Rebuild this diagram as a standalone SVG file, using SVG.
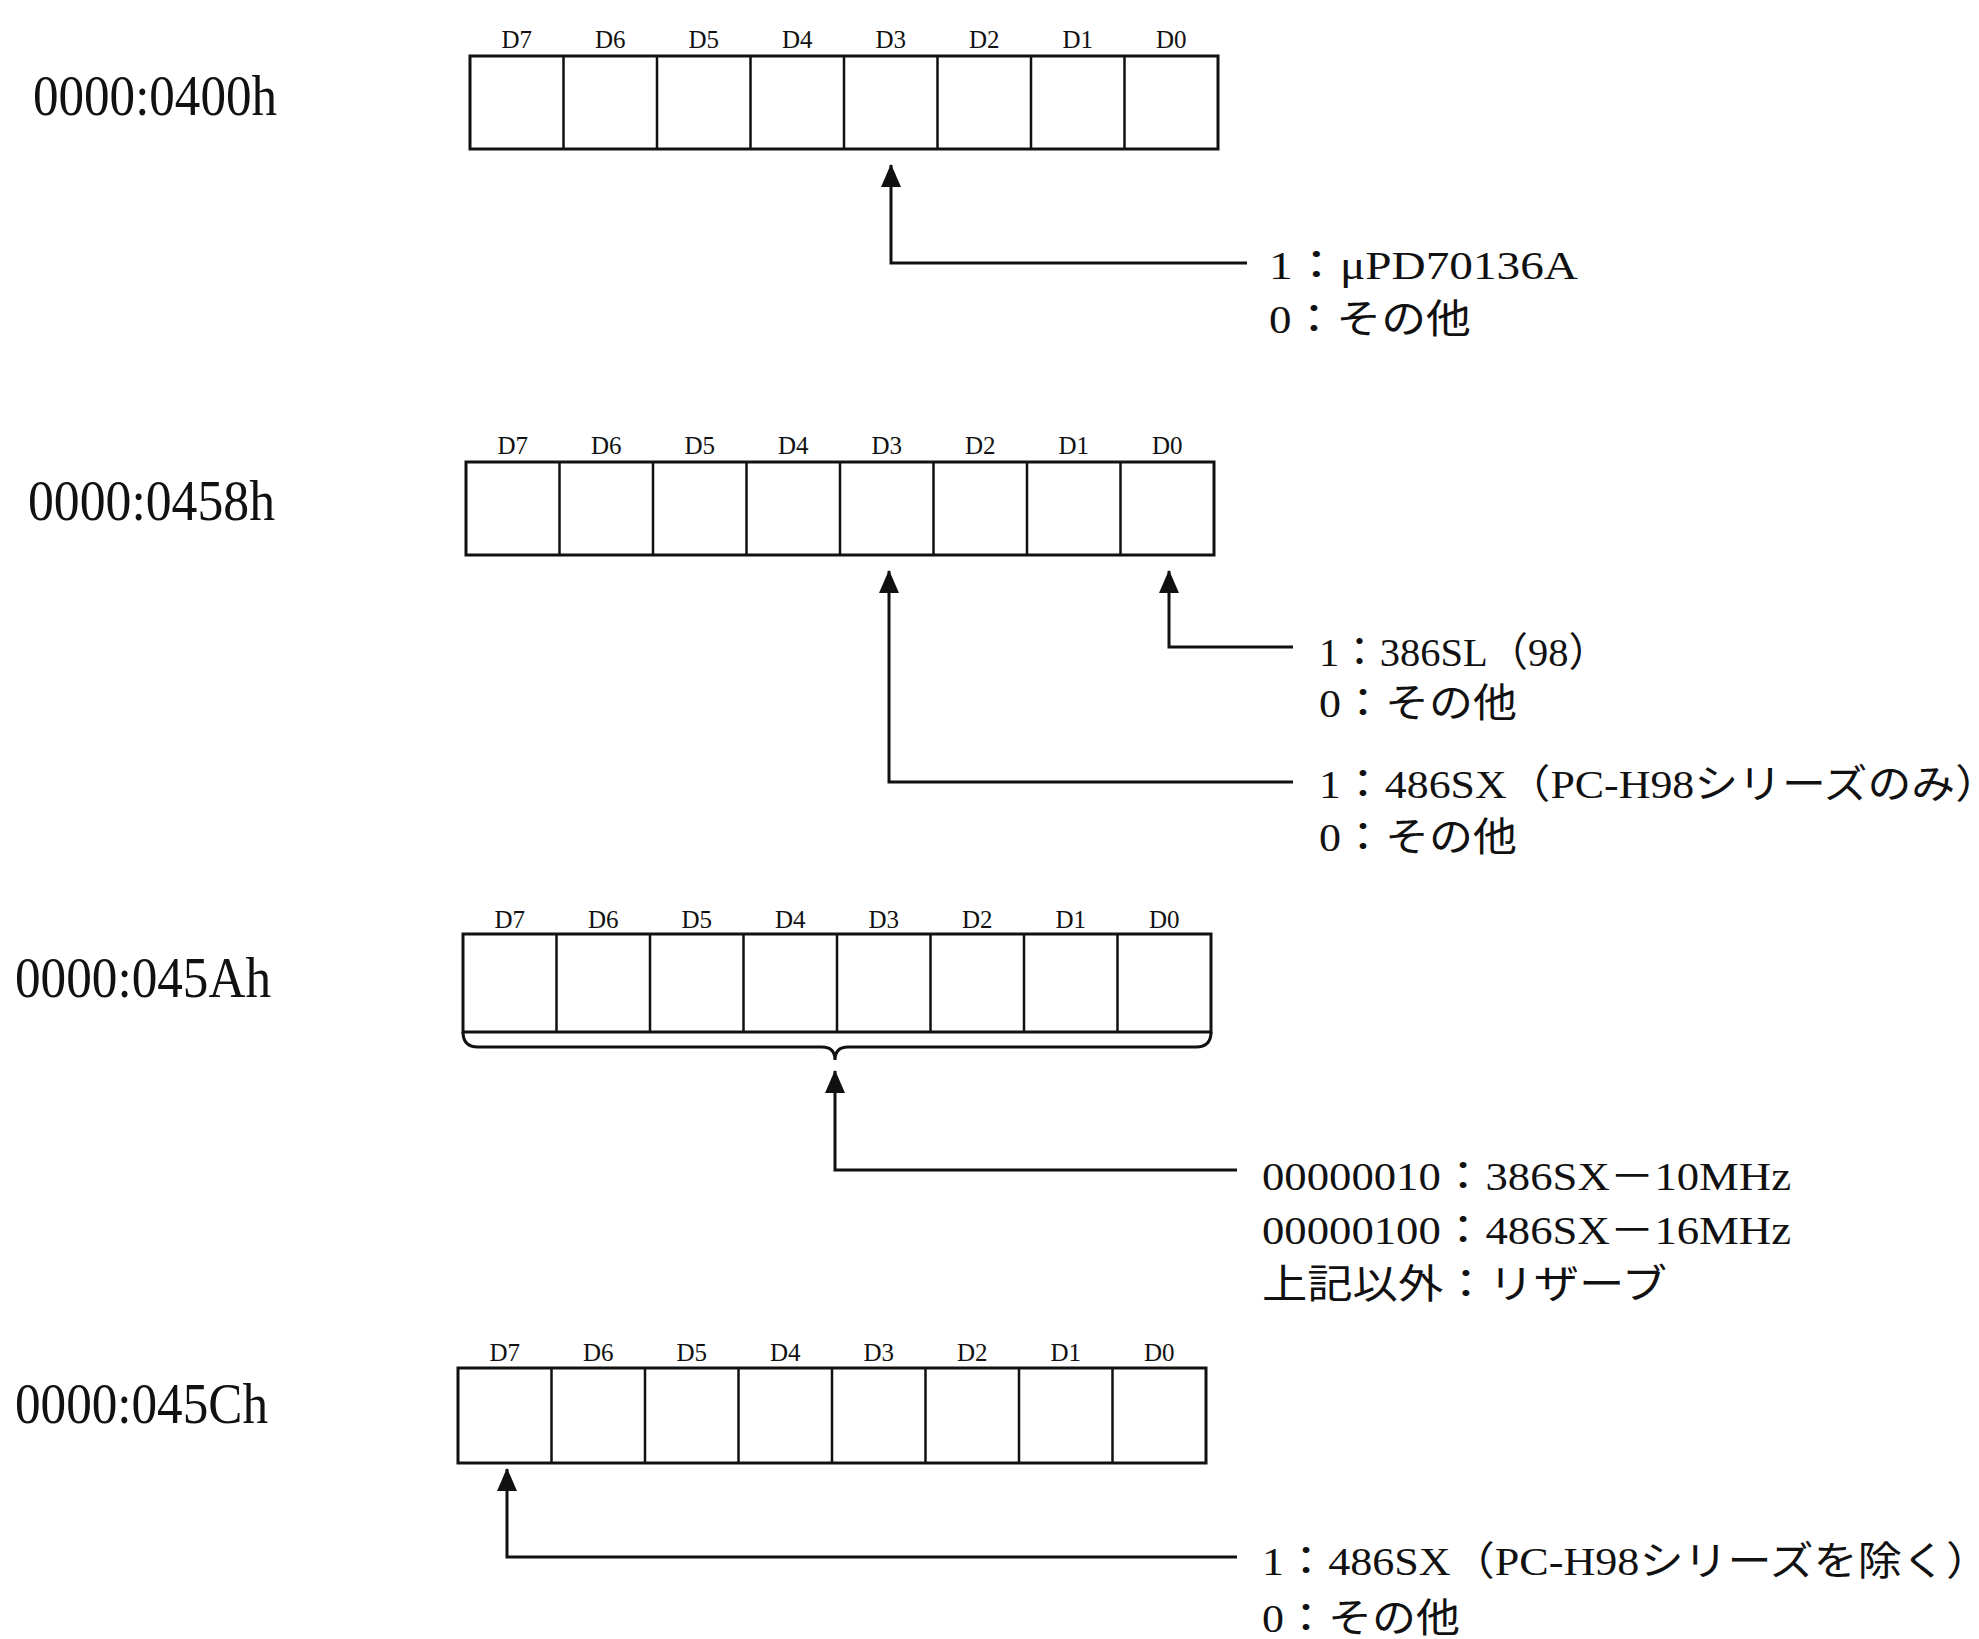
<svg xmlns="http://www.w3.org/2000/svg" width="1979" height="1639" viewBox="0 0 1979 1639">
<style>
.bg{fill:#ffffff}
.box{fill:none;stroke:#111;stroke-width:3}
.div{stroke:#111;stroke-width:2.5}
.bit{font-family:"Liberation Serif","Noto Sans CJK JP",serif;font-size:25px;fill:#111;text-anchor:middle}
.addr{font-family:"Liberation Serif","Noto Sans CJK JP",serif;font-size:56px;fill:#111}
.desc{font-family:"Liberation Serif","Noto Sans CJK JP",serif;font-size:40px;fill:#111}
.conn{fill:none;stroke:#111;stroke-width:3}
</style>
<defs>
<marker id="ah" markerWidth="24" markerHeight="20" refX="22" refY="10" orient="auto" markerUnits="userSpaceOnUse">
<path d="M0,0 L23,10 L0,20 Z" fill="#111"/>
</marker>
</defs>
<rect class="bg" x="0" y="0" width="1979" height="1639"/>

<g id="reg0400">
<text class="addr" x="33" y="115" textLength="244" lengthAdjust="spacingAndGlyphs">0000:0400h</text>
<rect class="box" x="470" y="56" width="748" height="93"/>
<path class="div" d="M563.5,56V149M657,56V149M750.5,56V149M844,56V149M937.5,56V149M1031,56V149M1124.5,56V149"/>
<text class="bit" x="516.75" y="48">D7</text>
<text class="bit" x="610.25" y="48">D6</text>
<text class="bit" x="703.75" y="48">D5</text>
<text class="bit" x="797.25" y="48">D4</text>
<text class="bit" x="890.75" y="48">D3</text>
<text class="bit" x="984.25" y="48">D2</text>
<text class="bit" x="1077.75" y="48">D1</text>
<text class="bit" x="1171.25" y="48">D0</text>
<text class="desc" x="1269" y="279" textLength="309" lengthAdjust="spacingAndGlyphs">1：μPD70136A</text>
<text class="desc" x="1269" y="333" textLength="202" lengthAdjust="spacingAndGlyphs">0：その他</text>
</g>

<g id="reg0458">
<text class="addr" x="28" y="520" textLength="247" lengthAdjust="spacingAndGlyphs">0000:0458h</text>
<rect class="box" x="466" y="462" width="748" height="93"/>
<path class="div" d="M559.5,462V555M653,462V555M746.5,462V555M840,462V555M933.5,462V555M1027,462V555M1120.5,462V555"/>
<text class="bit" x="512.75" y="454">D7</text>
<text class="bit" x="606.25" y="454">D6</text>
<text class="bit" x="699.75" y="454">D5</text>
<text class="bit" x="793.25" y="454">D4</text>
<text class="bit" x="886.75" y="454">D3</text>
<text class="bit" x="980.25" y="454">D2</text>
<text class="bit" x="1073.75" y="454">D1</text>
<text class="bit" x="1167.25" y="454">D0</text>
<text class="desc" x="1319" y="666" textLength="290" lengthAdjust="spacingAndGlyphs">1：386SL（98）</text>
<text class="desc" x="1319" y="717" textLength="198" lengthAdjust="spacingAndGlyphs">0：その他</text>
<text class="desc" x="1319" y="798" textLength="680" lengthAdjust="spacingAndGlyphs">1：486SX（PC-H98シリーズのみ）</text>
<text class="desc" x="1319" y="851" textLength="198" lengthAdjust="spacingAndGlyphs">0：その他</text>
</g>

<g id="reg045A">
<text class="addr" x="15" y="997" textLength="256" lengthAdjust="spacingAndGlyphs">0000:045Ah</text>
<rect class="box" x="463" y="934" width="748" height="98"/>
<path class="div" d="M556.5,934V1032M650,934V1032M743.5,934V1032M837,934V1032M930.5,934V1032M1024,934V1032M1117.5,934V1032"/>
<text class="bit" x="509.75" y="928">D7</text>
<text class="bit" x="603.25" y="928">D6</text>
<text class="bit" x="696.75" y="928">D5</text>
<text class="bit" x="790.25" y="928">D4</text>
<text class="bit" x="883.75" y="928">D3</text>
<text class="bit" x="977.25" y="928">D2</text>
<text class="bit" x="1070.75" y="928">D1</text>
<text class="bit" x="1164.25" y="928">D0</text>
<path class="conn" d="M463,1032 Q463,1047 478,1047 L822,1047 Q835,1047 835,1060 Q835,1047 848,1047 L1196,1047 Q1211,1047 1211,1032"/>
<text class="desc" x="1262" y="1190" textLength="529" lengthAdjust="spacingAndGlyphs">00000010：386SX－10MHz</text>
<text class="desc" x="1262" y="1244" textLength="529" lengthAdjust="spacingAndGlyphs">00000100：486SX－16MHz</text>
<text class="desc" x="1262" y="1298" textLength="405" lengthAdjust="spacingAndGlyphs">上記以外：リザーブ</text>
</g>

<g id="reg045C">
<text class="addr" x="15" y="1423" textLength="253" lengthAdjust="spacingAndGlyphs">0000:045Ch</text>
<rect class="box" x="458" y="1368" width="748" height="95"/>
<path class="div" d="M551.5,1368V1463M645,1368V1463M738.5,1368V1463M832,1368V1463M925.5,1368V1463M1019,1368V1463M1112.5,1368V1463"/>
<text class="bit" x="504.75" y="1361">D7</text>
<text class="bit" x="598.25" y="1361">D6</text>
<text class="bit" x="691.75" y="1361">D5</text>
<text class="bit" x="785.25" y="1361">D4</text>
<text class="bit" x="878.75" y="1361">D3</text>
<text class="bit" x="972.25" y="1361">D2</text>
<text class="bit" x="1065.75" y="1361">D1</text>
<text class="bit" x="1159.25" y="1361">D0</text>
<text class="desc" x="1262" y="1575" textLength="728" lengthAdjust="spacingAndGlyphs">1：486SX（PC-H98シリーズを除く）</text>
<text class="desc" x="1262" y="1632" textLength="198" lengthAdjust="spacingAndGlyphs">0：その他</text>
</g>

<g id="connectors">
<polyline class="conn" points="1247,263 891,263 891,165" marker-end="url(#ah)"/>
<polyline class="conn" points="1293,647 1169,647 1169,571" marker-end="url(#ah)"/>
<polyline class="conn" points="1293,782 889,782 889,571" marker-end="url(#ah)"/>
<polyline class="conn" points="1237,1170 835,1170 835,1071" marker-end="url(#ah)"/>
<polyline class="conn" points="1237,1557 507,1557 507,1469" marker-end="url(#ah)"/>
</g>
</svg>
